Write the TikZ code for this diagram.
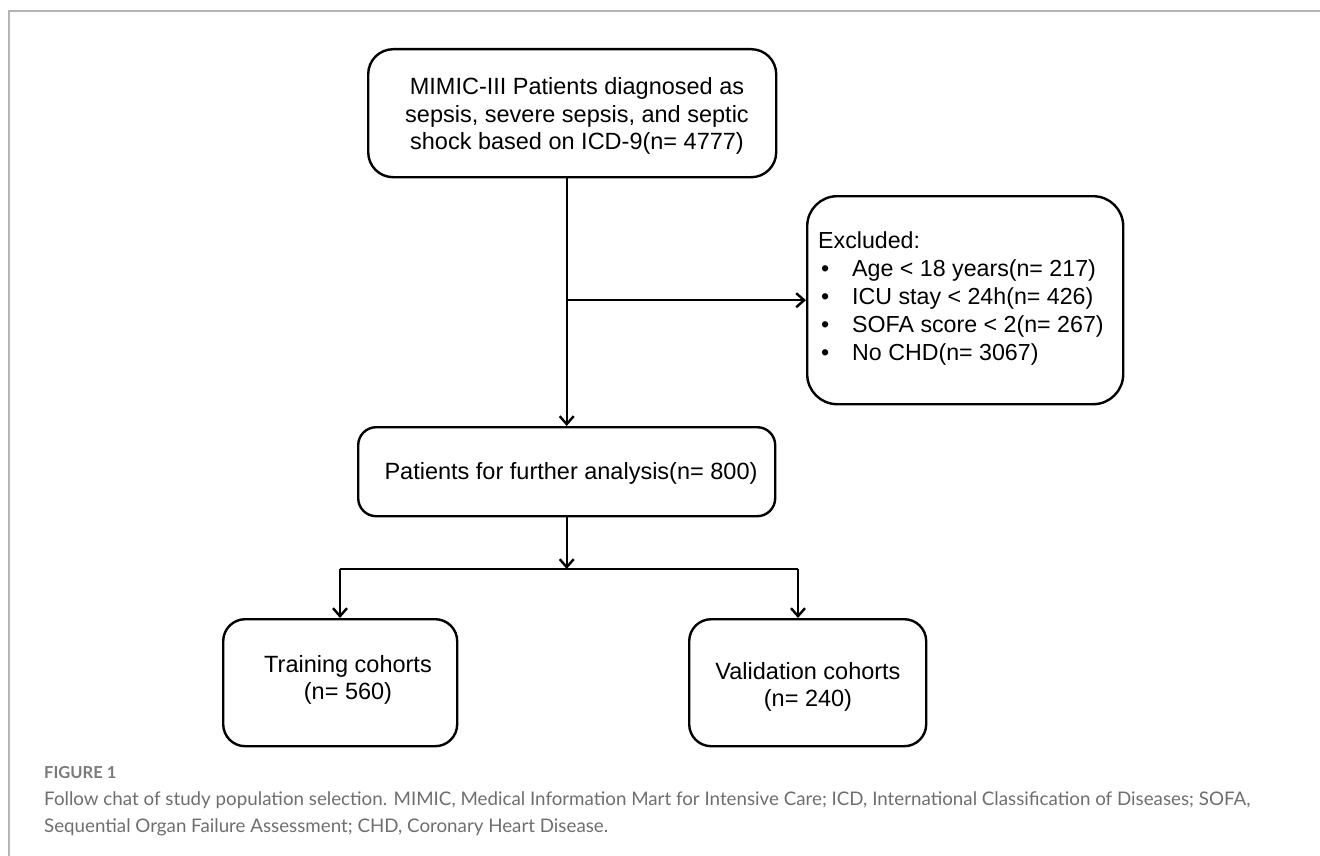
\documentclass[tikz,border=0pt]{standalone}
\usepackage{fontspec}
\setmainfont{Liberation Sans}
\newfontfamily\capfont{Lato}
\usetikzlibrary{arrows.meta}
\definecolor{capgray}{HTML}{6E6E6E}
\definecolor{figgray}{HTML}{7A7A7A}
\definecolor{framegray}{HTML}{B4B4B4}
\newlength\capw
\begin{document}
\settowidth{\capw}{\capfont\fontsize{18}{22}\selectfont Follow chat of study population selection. MIMIC, Medical Information Mart for Intensive Care; ICD, International Classification of Diseases; SOFA,}%
\pgfmathsetmacro{\capscale}{1206pt/\capw}%
\begin{tikzpicture}[x=1pt,y=-1pt,
  box/.style={draw, line width=2.4pt, rounded corners=#1, inner sep=0pt, anchor=north west},
  txt/.style={inner sep=0pt, align=center, font=\fontsize{23.5}{27.5}\selectfont},
  ln/.style={line width=2.4pt},
  arr/.style={line width=2.4pt, -{Straight Barb[length=8pt,width=14pt]}},
  captxt/.style={inner sep=0pt, anchor=base west, text=capgray, font=\capfont\fontsize{18}{22}\selectfont}]
\useasboundingbox (0,0) rectangle (1320,856);
% frame
\draw[framegray, line width=1.5pt] (9,856) -- (9,11) -- (1320,11);
% boxes
\node[box=25pt, minimum width=408pt, minimum height=128pt] (top) at (367,48) {};
\node[box=30pt, minimum width=316pt, minimum height=208pt] (excl) at (806,195) {};
\node[box=18pt, minimum width=417pt, minimum height=89pt] (pat) at (357,426) {};
\node[box=22pt, minimum width=234pt, minimum height=127pt] (train) at (222,618) {};
\node[box=22pt, minimum width=237pt, minimum height=127pt] (val) at (688,618) {};
% texts
\node[txt] (topT) at (577,116) {MIMIC-III Patients diagnosed as\\sepsis, severe sepsis, and septic\\shock based on ICD-9(n= 4777)};
\node[txt, anchor=west, align=left, font=\fontsize{23.2}{28}\selectfont] (exclT) at (818,298)
  {Excluded:\\
   \makebox[34pt][l]{\hspace{3pt}\textbullet}Age < 18 years(n= 217)\\
   \makebox[34pt][l]{\hspace{3pt}\textbullet}ICU stay < 24h(n= 426)\\
   \makebox[34pt][l]{\hspace{3pt}\textbullet}SOFA score < 2(n= 267)\\
   \makebox[34pt][l]{\hspace{3pt}\textbullet}No CHD(n= 3067)};
\node[txt] (patT) at (571,473) {Patients for further analysis(n= 800)};
\node[txt] (trainT) at (348,680) {Training cohorts\\(n= 560)};
\node[txt] (valT) at (808,687) {Validation cohorts\\(n= 240)};
% connectors
\coordinate (b1) at (pat.north |- excl.west);
\coordinate (split) at (pat.south |- 0,569);
\coordinate (lsplit) at (340,569);
\coordinate (rsplit) at (798,569);
\draw[arr] (pat.north |- top.south) -- (pat.north);
\draw[arr] (b1) -- (excl.west);
\draw[arr] (pat.south) -- (split);
\draw[ln] (lsplit) -- (rsplit);
\draw[arr] (lsplit) -- (lsplit |- train.north);
\draw[arr] (rsplit) -- (rsplit |- val.north);
% caption
\node[captxt, text=figgray, font=\capfont\bfseries\fontsize{16.5}{20}\selectfont] (fig) at (44,778) {FIGURE 1};
\node[captxt] (cap1) at (44,805) {\scalebox{\capscale}{Follow chat of study population selection. MIMIC, Medical Information Mart for Intensive Care; ICD, International Classification of Diseases; SOFA,}};
\node[captxt] (cap2) at (44,832) {\scalebox{\capscale}{Sequential Organ Failure Assessment; CHD, Coronary Heart Disease.}};
\end{tikzpicture}
\end{document}
